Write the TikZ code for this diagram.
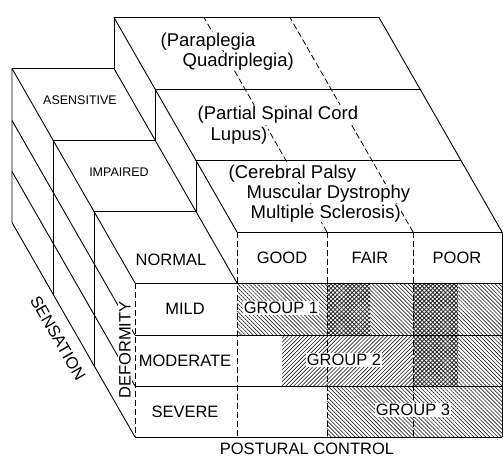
\documentclass[tikz,border=0pt]{standalone}
\usepackage{fontspec}
\setmainfont{Liberation Sans}
\usetikzlibrary{patterns, patterns.meta}

\begin{document}
\begin{tikzpicture}[x=1pt, y=-1pt, line join=round,
    bline/.style={line width=0.9pt},
    colline/.style={line width=0.8pt, dash pattern=on 6pt off 3pt},
    lbl/.style={font=\fontsize{16.5}{18}\selectfont, inner sep=1pt},
    senslbl/.style={font=\fontsize{12.5}{14}\selectfont, inner sep=1pt},
    diag/.style={font=\fontsize{18.5}{20}\selectfont, anchor=base west, fill=white, inner sep=0.5pt},
    grp/.style={lbl, fill=white},
    hatchA/.style={pattern={Lines[angle=-45,distance=2.8pt,line width=0.65pt]}, pattern color=black!85},
    hatchB/.style={pattern={Lines[angle=45,distance=2.8pt,line width=0.65pt]}, pattern color=black!85},
    dotbox/.style={pattern={Hatch[angle=45,distance=3pt,line width=0.85pt]}, pattern color=black!85}]

    \useasboundingbox (0,0) rectangle (503,458);

    % Patterned cells of the front face
    \foreach \xa/\xb/\ya/\yb/\sty in {237/327/283/335/hatchA, 327/370/283/335/dotbox,
        370/413/283/335/hatchA, 413/458/283/335/dotbox, 458/502/283/335/hatchA,
        282/413/335/386/hatchB, 413/458/335/386/dotbox, 458/502/335/386/hatchA,
        327/502/386/437/hatchA} {
        \fill[\sty] (\xa,\ya) rectangle (\xb,\yb);
    }

    % Front face
    \foreach \y in {283,335,386,437} {
        \draw[bline] (135,\y) -- (502,\y);
    }
    \draw[bline] (237,232) -- (502,232) -- (502,437);
    \draw[colline] (135,283) -- (135,437);
    \foreach \x in {237,327,413} {
        \draw[colline] (\x,232) -- (\x,437);
    }

    % Top of the posture block (diagnosis bands)
    \draw[bline] (237,232) -- ++(-123,-214.5) -- ++(265,0) -- (502,232);
    \foreach \k in {1,2} {
        \draw[bline] ({237-41*\k},{232-71.5*\k}) -- ++(265,0);
    }
    \foreach \x in {327,413} {
        \draw[colline] (\x,232) -- ++(-123,-214.5);
    }

    % Side of the header row
    \foreach \k in {1,2,3} {
        \draw[bline] ({237-41*\k},{232-71.5*\k}) -- ++(0,51);
    }

    % Top of the deformity column (sensation layers)
    \draw[bline] (237,283) -- ++(-123,-214.5) -- ++(-102,0) -- (135,283);
    \foreach \k in {1,2} {
        \draw[bline] ({135-41*\k},{283-71.5*\k}) -- ++(102,0);
    }

    % Left face
    \draw[bline] (135,437) -- ++(-123,-214.5) -- ++(0,-154);
    \foreach \y in {335,386} {
        \draw[bline] (135,\y) -- ++(-123,-214.5);
    }
    \foreach \k in {1,2} {
        \draw[bline] ({135-41*\k},{283-71.5*\k}) -- ++(0,154);
    }

    % Diagnoses
    \node[diag] (para) at (160,46) {(Paraplegia};
    \node[diag] (quad) at (182,66) {Quadriplegia)};
    \node[diag] (spinal) at (197,119) {(Partial Spinal Cord};
    \node[diag] (lupus) at (210,140) {Lupus)};
    \node[diag] (palsy) at (228,178) {(Cerebral Palsy};
    \node[diag] (dystr) at (246,198) {Muscular Dystrophy};
    \node[diag] (scler) at (250,218) {Multiple Sclerosis)};

    % Sensation
    \node[senslbl] (asens) at (80,100) {ASENSITIVE};
    \node[senslbl] (impair) at (119,172) {IMPAIRED};
    \node[lbl] (normal) at (171,260) {NORMAL};

    % Posture
    \node[lbl] (good) at (282,258) {GOOD};
    \node[lbl] (fair) at (370,258) {FAIR};
    \node[lbl] (poor) at (457,258) {POOR};

    % Deformity
    \node[lbl] (mild) at (185,309) {MILD};
    \node[lbl] (moder) at (185,361) {MODERATE};
    \node[lbl] (severe) at (185,412) {SEVERE};

    % Groups
    \node[grp] (grp1) at (281,308) {GROUP 1};
    \node[grp] (grp2) at (344,360) {GROUP 2};
    \node[grp] (grp3) at (413,410) {GROUP 3};

    % Axis names
    \node[lbl, fill=white, rotate=90] (deform) at (125,350) {DEFORMITY};
    \node[lbl, rotate=-60] (sens) at (58,338) {SENSATION};
    \node[lbl] (postural) at (307,449) {POSTURAL CONTROL};
\end{tikzpicture}
\end{document}
